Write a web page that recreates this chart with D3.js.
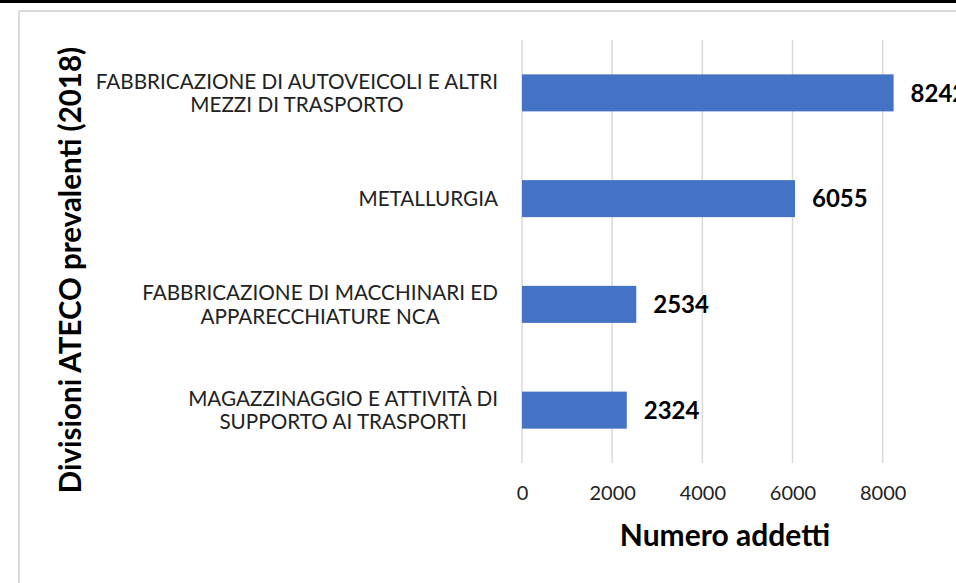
<!DOCTYPE html>
<html><head><meta charset="utf-8">
<script src="https://cdn.jsdelivr.net/npm/d3@7"></script>
<style>body{margin:0;background:#fff}svg{display:block}</style>
</head><body>
<svg id="c" width="956" height="583"></svg>
<script>
const categories = [
  ["FABBRICAZIONE DI AUTOVEICOLI E ALTRI","MEZZI DI TRASPORTO"],
  ["METALLURGIA"],
  ["FABBRICAZIONE DI MACCHINARI ED","APPARECCHIATURE NCA"],
  ["MAGAZZINAGGIO E ATTIVITÀ DI","SUPPORTO AI TRASPORTI"]
];
const values = [8242, 6055, 2534, 2324];
const xTicks = [0, 2000, 4000, 6000, 8000];
const xTitle = "Numero addetti";
const yTitle = "Divisioni ATECO prevalenti (2018)";

const svg = d3.select("#c");
const font = "Lato, 'Open Sans', sans-serif";

// frame
svg.append("rect").attr("x",0).attr("y",0).attr("width",956).attr("height",3).attr("fill","#000");
svg.append("line").attr("x1",19).attr("x2",956).attr("y1",11).attr("y2",11).attr("stroke","#d9d9d9").attr("stroke-width",2);
svg.append("line").attr("x1",19).attr("x2",19).attr("y1",11).attr("y2",583).attr("stroke","#d9d9d9").attr("stroke-width",2);

const x = d3.scaleLinear().domain([0, 8000]).range([522, 882.7]);
const keys = categories.map((c,i)=>i);
const y = d3.scaleBand().domain(keys).range([40, 463]).paddingInner(0.65).paddingOuter(0.325);

// gridlines
svg.append("g").selectAll("line").data(xTicks).join("line")
  .attr("x1",d=>x(d)).attr("x2",d=>x(d)).attr("y1",40).attr("y2",463)
  .attr("stroke","#d9d9d9").attr("stroke-width",1.5);

// x axis labels
const xAxis = d3.axisBottom(x).tickValues(xTicks).tickSize(0).tickPadding(0).tickFormat(d3.format("d"));
const gx = svg.append("g").attr("transform","translate(0,486)").call(xAxis);
gx.select(".domain").remove();
gx.selectAll("text").attr("font-family",font).attr("font-size",20).attr("fill","#222").attr("dy","0.72em");

// bars
svg.append("g").selectAll("rect").data(values).join("rect")
  .attr("x",x(0)).attr("y",(d,i)=>y(i)).attr("width",d=>x(d)-x(0)).attr("height",y.bandwidth())
  .attr("fill","#4472C4");

// value labels
svg.append("g").selectAll("text").data(values).join("text")
  .attr("x",d=>x(d)+17).attr("y",(d,i)=>y(i)+y.bandwidth()/2).attr("dy","0.36em")
  .attr("font-family",font).attr("font-weight","bold").attr("font-size",24).attr("fill","#000")
  .text(d=>d);

// category labels (lines centered in block, block right-aligned)
const gc = svg.append("g");
categories.forEach((lines,i)=>{
  const cy = y(i)+y.bandwidth()/2;
  const lh = 23.5;
  const t = gc.append("g");
  const texts = lines.map((s,j)=> t.append("text")
      .attr("y", cy + (j-(lines.length-1)/2)*lh).attr("dy","0.36em")
      .attr("font-family",font).attr("font-size",20.7).attr("fill","#222")
      .attr("text-anchor","middle").text(s));
  const w = d3.max(texts, tx=>tx.node().getComputedTextLength());
  texts.forEach(tx=>tx.attr("x", 498 - w/2));
});

// axis titles
svg.append("text").attr("x",725).attr("y",546).attr("text-anchor","middle")
  .attr("font-family",font).attr("font-weight","bold").attr("font-size",30).attr("fill","#000").text(xTitle);
svg.append("text").attr("transform","translate(81,270) rotate(-90)").attr("text-anchor","middle")
  .attr("font-family",font).attr("font-weight","bold").attr("font-size",29.5).attr("fill","#000").text(yTitle);
</script>
</body></html>
